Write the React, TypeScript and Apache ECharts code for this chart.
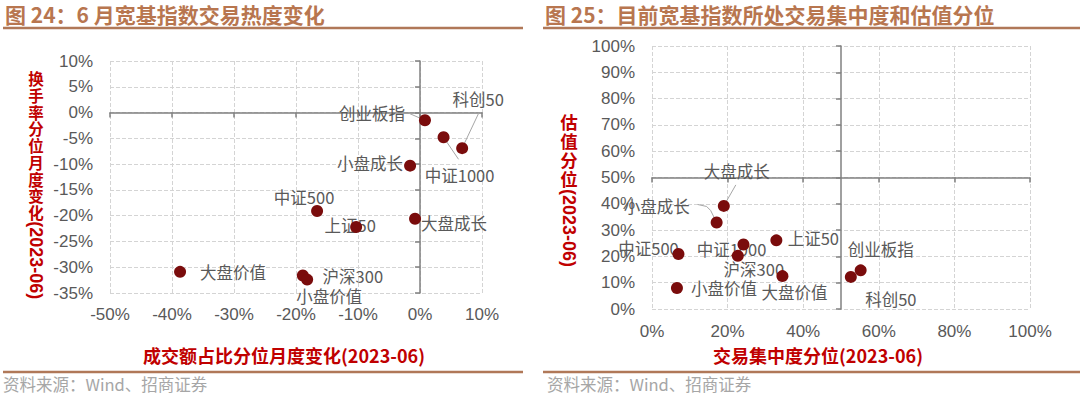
import React, { useEffect, useRef } from "react";
import * as echarts from "echarts";

// ---------- data: left chart (图24) ----------
const leftNames = ["创业板指", "中证1000", "科创50", "小盘成长", "中证500", "大盘成长", "上证50", "大盘价值", "沪深300", "小盘价值"];
const leftX = [0.8, 3.8, 6.8, -1.6, -16.6, -0.8, -10.3, -38.7, -18.9, -18.2];
const leftY = [-1.5, -4.8, -6.9, -10.3, -19.1, -20.6, -22.2, -30.9, -31.6, -32.4];
const leftXRange = [-50, 10];
const leftXStep = 10;
const leftYRange = [-35, 10];
const leftYStep = 5;

// ---------- data: right chart (图25) ----------
const rightNames = ["大盘成长", "小盘成长", "中证500", "中证1000", "沪深300", "上证50", "大盘价值", "小盘价值", "创业板指", "科创50"];
const rightX = [19.0, 17.1, 7.0, 24.2, 22.7, 32.9, 34.5, 6.6, 55.2, 52.6];
const rightY = [39.2, 32.9, 20.9, 24.5, 20.2, 26.1, 12.5, 8.0, 14.7, 12.2];
const rightXRange = [0, 100];
const rightXStep = 20;
const rightYRange = [0, 100];
const rightYStep = 10;

// ---------- label layout (offset of label centre from its dot, px) ----------
const leftLabelOffsets = [[-53, -7], [16, 38], [16, -49], [-40, -3], [-13, -14], [39, 4], [-6, -2], [53, 0], [50, 1], [22, 16]];
// leader polylines, as offsets from the dot (px)
const leftLeaders: (number[][] | null)[] = [[[-16, -7]], [[15, 22]], [[17, -36]], null, null, null, null, null, null, null];
const rightLabelOffsets = [[13, -35], [-60, -16], [-30, -6], [-12, 4], [16, 13], [37, -2], [12, 16], [47, 0], [20, -21], [40, 22]];
const rightLeaders: (number[][] | null)[] = [[[12, -21]], [[-6, -12], [-10, -16], [-19, -18]], null, null, null, null, null, null, null, null];

const NUM_FONT = "'Liberation Sans', Arial, sans-serif";
const CJK_FONT = "'Noto Sans CJK SC', 'Noto Sans', sans-serif";
const TITLE_COLOR = "#B8764F";
const LINE_COLOR = "#B07858";
const RED = "#C00000";
const GRAY = "#595959";
const AXIS_COLOR = "#808080";
const DOT = "#7A0C0C";

interface PanelCfg {
  title: string;
  names: string[];
  xs: number[];
  ys: number[];
  xRange: number[];
  xStep: number;
  yRange: number[];
  yStep: number;
  crossX: number;
  crossY: number;
  offsets: number[][];
  leaders: (number[][] | null)[];
  grid: { left: number; top: number; width: number; height: number };
  xLabelMargin: number;
  yLabelMargin: number;
  yNameChars: string;
  yNameLatin: string;
  yNameX: number;
  yNameTop: number;
  yNameLineH: number;
  yNameFont: number;
  xName: string;
  xNameX: number;
  lineX0: number;
  lineX1: number;
  sourceX: number;
}

function buildOption(c: PanelCfg): any {
  const points = c.xs.map((x, i) => [x, c.ys[i]]);
  const axisLineStyle = { color: AXIS_COLOR, width: 1.5 };
  const tickLabel = { formatter: "{value}%", color: GRAY, fontSize: 17, fontFamily: NUM_FONT };
  const split = { show: true, lineStyle: { type: "dashed", color: "#d4d4d4", width: 1 } };
  const chars = c.yNameChars.split("");
  const latinTop = c.yNameTop + chars.length * c.yNameLineH + 1;
  return {
    animation: false,
    backgroundColor: "#ffffff",
    grid: { ...c.grid, containLabel: false },
    xAxis: [
      {
        type: "value", min: c.xRange[0], max: c.xRange[1], interval: c.xStep, position: "bottom",
        axisLine: { show: false, onZero: false }, axisTick: { show: false },
        axisLabel: { ...tickLabel, margin: c.xLabelMargin }, splitLine: split,
      },
      {
        type: "value", min: c.xRange[0], max: c.xRange[1], interval: c.xStep, position: "bottom",
        axisLine: { show: true, onZero: true, onZeroAxisIndex: 2, lineStyle: axisLineStyle },
        axisTick: { show: true, length: 5, lineStyle: axisLineStyle },
        axisLabel: { show: false }, splitLine: { show: false },
      },
      {
        type: "value", show: false, min: c.xRange[0] - c.crossX, max: c.xRange[1] - c.crossX, position: "bottom",
        axisLine: { onZero: false }, splitLine: { show: false },
      },
    ],
    yAxis: [
      {
        type: "value", min: c.yRange[0], max: c.yRange[1], interval: c.yStep, position: "left",
        axisLine: { show: false, onZero: false }, axisTick: { show: false },
        axisLabel: { ...tickLabel, margin: c.yLabelMargin }, splitLine: split,
      },
      {
        type: "value", min: c.yRange[0], max: c.yRange[1], interval: c.yStep, position: "left",
        axisLine: { show: true, onZero: true, onZeroAxisIndex: 2, lineStyle: axisLineStyle },
        axisTick: { show: true, length: 5, lineStyle: axisLineStyle },
        axisLabel: { show: false }, splitLine: { show: false },
      },
      {
        type: "value", show: false, min: c.yRange[0] - c.crossY, max: c.yRange[1] - c.crossY, position: "left",
        axisLine: { onZero: false }, splitLine: { show: false },
      },
    ],
    series: [
      {
        type: "custom",
        xAxisIndex: 0,
        yAxisIndex: 0,
        z: 2,
        clip: false,
        silent: true,
        data: points,
        encode: { x: 0, y: 1 },
        renderItem: (params: any, api: any) => {
          const i = params.dataIndex;
          const pt = api.coord([api.value(0), api.value(1)]);
          const children: any[] = [];
          const lead = c.leaders[i];
          if (lead) {
            children.push({
              type: "polyline",
              shape: { points: [pt, ...lead.map(([dx, dy]) => [pt[0] + dx, pt[1] + dy])] },
              style: { stroke: "#a6a6a6", lineWidth: 1, fill: null },
            });
          }
          children.push({
            type: "text",
            x: pt[0] + c.offsets[i][0],
            y: pt[1] + c.offsets[i][1],
            style: {
              text: c.names[i], fill: GRAY, font: `16.5px ${CJK_FONT}`,
              align: "center", verticalAlign: "middle",
            },
          });
          return { type: "group", children };
        },
      },
      {
        type: "scatter",
        xAxisIndex: 0,
        yAxisIndex: 0,
        z: 3,
        symbol: "circle",
        symbolSize: 12,
        itemStyle: { color: DOT, opacity: 1 },
        data: points,
        label: { show: false },
        emphasis: { disabled: true },
      },
    ],
    graphic: [
      {
        type: "text", x: 5, y: 14,
        style: { text: c.title, fill: TITLE_COLOR, font: `bold 21px ${CJK_FONT}`, verticalAlign: "middle", align: "left" },
      },
      { type: "line", shape: { x1: c.lineX0, y1: 28, x2: c.lineX1, y2: 28 }, style: { stroke: LINE_COLOR, lineWidth: 2.5 } },
      { type: "line", shape: { x1: c.lineX0, y1: 372, x2: c.lineX1, y2: 372 }, style: { stroke: LINE_COLOR, lineWidth: 2.5 } },
      {
        type: "text", x: c.sourceX, y: 384,
        style: { text: "资料来源：Wind、招商证券", fill: "#a6a6a6", font: `16.5px ${CJK_FONT}`, verticalAlign: "middle", align: "left" },
      },
      {
        type: "text", x: c.yNameX, y: c.yNameTop,
        style: {
          text: chars.join("\n"), fill: RED, font: `bold ${c.yNameFont}px ${CJK_FONT}`,
          lineHeight: c.yNameLineH, align: "center", verticalAlign: "top",
        },
      },
      {
        type: "text", x: c.yNameX, y: latinTop, rotation: -Math.PI / 2,
        style: { text: c.yNameLatin, fill: RED, font: `bold 18px ${NUM_FONT}`, align: "left", verticalAlign: "middle" },
      },
      {
        type: "text", x: c.xNameX, y: 355,
        style: { text: c.xName, fill: RED, font: `bold 18px ${CJK_FONT}`, align: "center", verticalAlign: "middle" },
      },
    ],
  };
}

const leftCfg: PanelCfg = {
  title: "图 24：6 月宽基指数交易热度变化",
  names: leftNames, xs: leftX, ys: leftY,
  xRange: leftXRange, xStep: leftXStep, yRange: leftYRange, yStep: leftYStep,
  crossX: 0, crossY: 0,
  offsets: leftLabelOffsets, leaders: leftLeaders,
  grid: { left: 110, top: 61, width: 372, height: 232 },
  xLabelMargin: 13, yLabelMargin: 17,
  yNameChars: "换手率分位月度变化", yNameLatin: "(2023-06)",
  yNameX: 36, yNameTop: 70, yNameLineH: 16.7, yNameFont: 15.5,
  xName: "成交额占比分位月度变化(2023-06)", xNameX: 284,
  lineX0: 3, lineX1: 523, sourceX: 3,
};

const rightCfg: PanelCfg = {
  title: "图 25：目前宽基指数所处交易集中度和估值分位",
  names: rightNames, xs: rightX, ys: rightY,
  xRange: rightXRange, xStep: rightXStep, yRange: rightYRange, yStep: rightYStep,
  crossX: 50, crossY: 50,
  offsets: rightLabelOffsets, leaders: rightLeaders,
  grid: { left: 112, top: 46, width: 378, height: 263 },
  xLabelMargin: 14, yLabelMargin: 17,
  yNameChars: "估值分位", yNameLatin: "(2023-06)",
  yNameX: 29, yNameTop: 112, yNameLineH: 19, yNameFont: 17.5,
  xName: "交易集中度分位(2023-06)", xNameX: 278,
  lineX0: 3, lineX1: 540, sourceX: 7,
};

function Panel({ cfg, left }: { cfg: PanelCfg; left: number }) {
  const ref = useRef<HTMLDivElement>(null);
  useEffect(() => {
    if (!ref.current) return;
    const chart = echarts.init(ref.current, undefined, { renderer: "svg" });
    chart.setOption(buildOption(cfg));
    return () => chart.dispose();
  }, [cfg]);
  return <div ref={ref} style={{ position: "absolute", left, top: 0, width: 540, height: 396 }} />;
}

export default function App() {
  return (
    <div style={{ position: "fixed", left: 0, top: 0, width: 1080, height: 396, background: "#ffffff", overflow: "hidden" }}>
      <Panel cfg={leftCfg} left={0} />
      <Panel cfg={rightCfg} left={540} />
    </div>
  );
}
